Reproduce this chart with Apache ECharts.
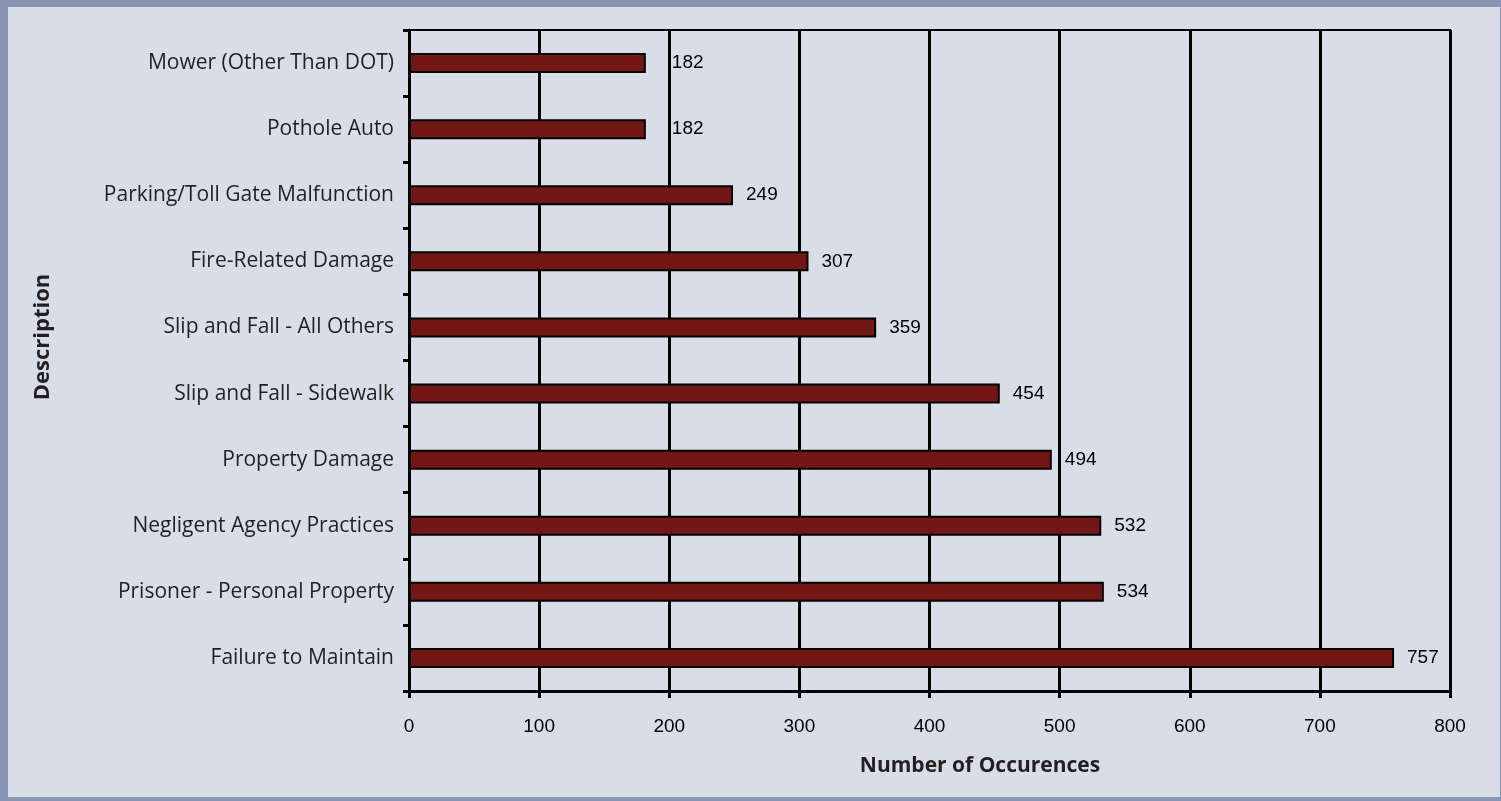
<!DOCTYPE html>
<html>
<head>
<meta charset="utf-8">
<script src="https://cdn.jsdelivr.net/npm/echarts@6/dist/echarts.min.js"></script>
<style>
  html, body { margin: 0; padding: 0; background: #8a95b5; }
  #chart { position: absolute; left: 8px; top: 7px; width: 1492px; height: 790px; background: #d9dde8; }
</style>
</head>
<body>
<div id="chart"></div>
<script>
// Claim descriptions, listed from the top of the chart to the bottom
const categories = [
  'Mower (Other Than DOT)',
  'Pothole Auto',
  'Parking/Toll Gate Malfunction',
  'Fire-Related Damage',
  'Slip and Fall - All Others',
  'Slip and Fall - Sidewalk',
  'Property Damage',
  'Negligent Agency Practices',
  'Prisoner - Personal Property',
  'Failure to Maintain'
];
// Number of occurrences per description, same order
const occurrences = [182, 182, 249, 307, 359, 454, 494, 532, 534, 757];
// Value axis tick labels
const xTicks = [0, 100, 200, 300, 400, 500, 600, 700, 800];
// Axis titles
const xTitle = 'Number of Occurences';
const yTitle = 'Description';

const labelFont = 'Liberation Sans, Arial, sans-serif';
const textFont = 'Open Sans, Noto Sans, sans-serif';

const chart = echarts.init(document.getElementById('chart'), null, { renderer: 'canvas' });

const barData = occurrences.map(function (v) {
  const item = { value: v };
  // the two smallest labels sit further out, past the 200 gridline
  if (v < 200) item.label = { distance: 26 };
  return item;
});

chart.setOption({
  animation: false,
  grid: {
    left: 401, right: 50, top: 23, bottom: 106,
    show: true, borderColor: '#000', borderWidth: 2, backgroundColor: 'transparent'
  },
  graphic: [
    {
      type: 'text', x: 35, y: 330, rotation: Math.PI / 2,
      style: {
        text: yTitle, fill: '#231f20', align: 'center', verticalAlign: 'middle',
        font: 'bold 22px "Open Sans", "Noto Sans", sans-serif'
      }
    },
    {
      type: 'text', x: 972, y: 759,
      style: {
        text: xTitle, fill: '#231f20', align: 'center', verticalAlign: 'middle',
        font: 'bold 21px "Open Sans", "Noto Sans", sans-serif'
      }
    }
  ],
  xAxis: {
    type: 'value',
    min: xTicks[0], max: xTicks[xTicks.length - 1], interval: 100,
    axisLine: { show: true, lineStyle: { color: '#000', width: 3 } },
    axisTick: { show: true, length: 7, lineStyle: { color: '#000', width: 3 } },
    axisLabel: { margin: 26, fontFamily: labelFont, fontSize: 19, color: '#000' },
    splitLine: { show: true, lineStyle: { color: '#000', width: 3 } }
  },
  yAxis: {
    type: 'category',
    data: categories,
    inverse: true,
    axisLine: { show: true, lineStyle: { color: '#000', width: 3 } },
    axisTick: { show: true, length: 6, lineStyle: { color: '#000', width: 3 } },
    axisLabel: { margin: 15, fontFamily: textFont, fontSize: 21, color: '#231f20' },
    splitLine: { show: false }
  },
  series: [{
    type: 'bar',
    data: barData,
    barWidth: 20,
    itemStyle: { color: '#731616', borderColor: '#000', borderWidth: 2 },
    label: {
      show: true, position: 'right', distance: 13,
      fontFamily: labelFont, fontSize: 19, color: '#000'
    }
  }]
});
</script>
</body>
</html>
